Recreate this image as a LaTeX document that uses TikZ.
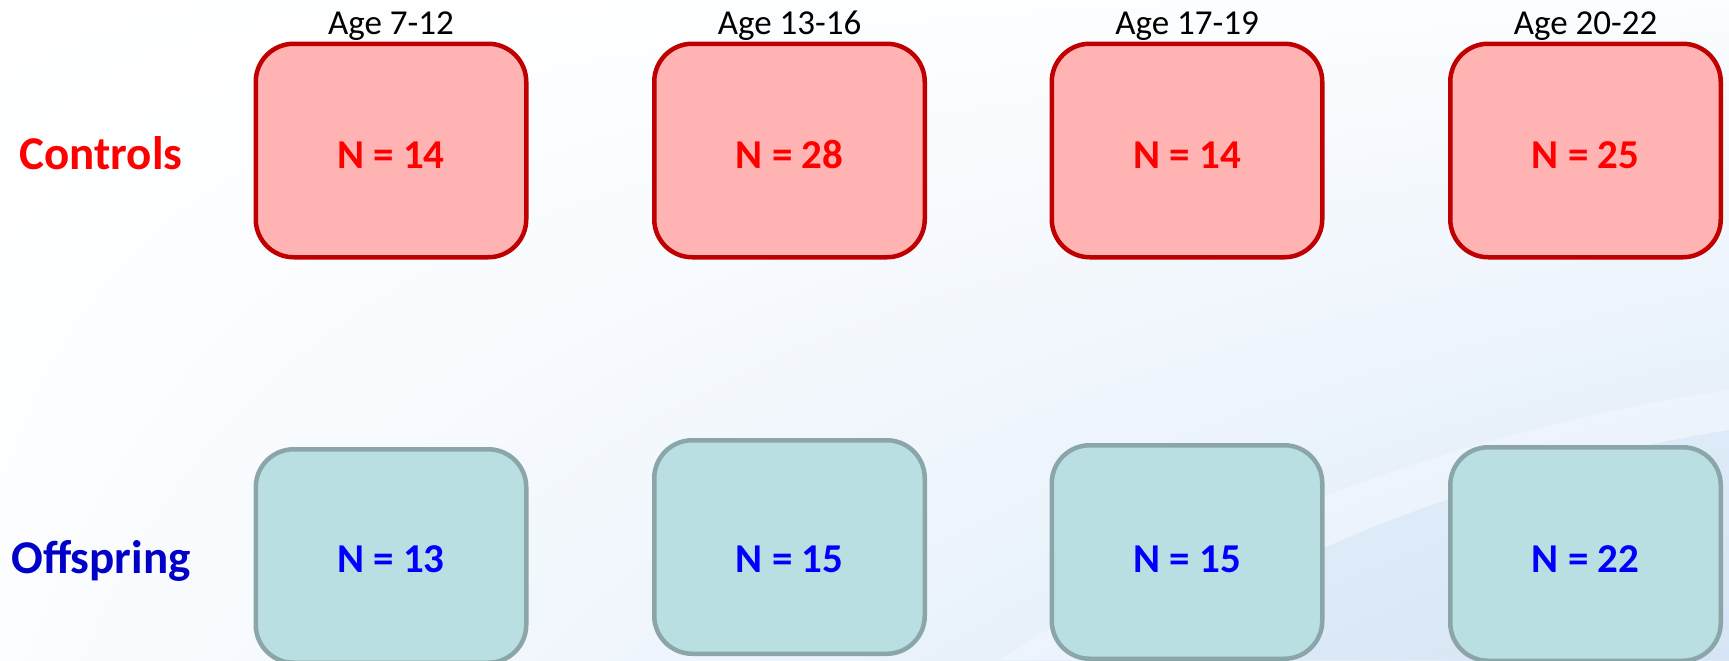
\documentclass[tikz,border=0pt]{standalone}
\usepackage{fontspec}
\setmainfont{Carlito}
\usetikzlibrary{shadings}
\definecolor{ctrlline}{HTML}{C00000}
\definecolor{ctrlfill}{HTML}{FFB3B3}
\definecolor{ctrltext}{HTML}{FF0000}
\definecolor{offfill}{HTML}{BADFE2}
\definecolor{offline}{HTML}{8BA6A9}
\definecolor{offlabel}{HTML}{0000C8}
\definecolor{offtext}{HTML}{0000FF}
\definecolor{bgcorner}{HTML}{DAE8F7}
\definecolor{bgtopright}{HTML}{FBFDFF}
\definecolor{bgbottomleft}{HTML}{FBFDFF}
\definecolor{bgdeep}{HTML}{CFE1F4}
\begin{document}
\begin{tikzpicture}[x=0.5pt,y=-0.5pt,
  box/.style={rectangle, rounded corners=19pt, line width=2.25pt,
    minimum width=135.25pt, minimum height=106.75pt, inner sep=0pt},
  ctrlbox/.style={box, draw=ctrlline, fill=ctrlfill},
  offbox/.style={box, draw=offline, fill=offfill},
  agelabel/.style={anchor=base, inner sep=0pt, font=\fontsize{17.5}{21}\selectfont},
  ctrlcount/.style={anchor=base, inner sep=0pt, text=ctrltext,
    font=\fontsize{20.5}{24}\selectfont\bfseries},
  offcount/.style={anchor=base, inner sep=0pt, text=offtext,
    font=\fontsize{20.5}{24}\selectfont\bfseries},
  rowlabel/.style={anchor=base, inner sep=0pt,
    font=\fontsize{23.5}{28}\selectfont\bfseries}
]
% page with a soft blue wash toward the lower right
\useasboundingbox (0,0) rectangle (1729,660);
\shade[upper left=white, upper right=bgtopright, lower left=bgbottomleft, lower right=bgcorner]
  (0,0) rectangle (1729,660);
% faint swoosh near the lower right corner
\fill[bgdeep, opacity=0.35]
  (1130,660) .. controls (1260,560) and (1480,470) .. (1729,430) -- (1729,660) -- cycle;
\fill[white, opacity=0.25]
  (1000,660) .. controls (1180,540) and (1450,430) .. (1729,390) -- (1729,430)
  .. controls (1480,470) and (1260,560) .. (1130,660) -- cycle;

% age headings
\node[agelabel] (a1) at (391,34)    {Age 7-12};
\node[agelabel] (a2) at (789.5,34)  {Age 13-16};
\node[agelabel] (a3) at (1187,34)   {Age 17-19};
\node[agelabel] (a4) at (1585.5,34) {Age 20-22};

% row headings
\node[rowlabel, text=ctrltext] (ctrl) at (101,169) {Controls};
\node[rowlabel, text=offlabel] (offs) at (101,573) {Offspring};

% control group boxes
\node[ctrlbox] (c1) at (391,150.5)    {};
\node[ctrlbox] (c2) at (789.5,150.5)  {};
\node[ctrlbox] (c3) at (1187,150.5)   {};
\node[ctrlbox] (c4) at (1585.5,150.5) {};
\node[ctrlcount] (c1n) at (391,168)    {N = 14};
\node[ctrlcount] (c2n) at (789.5,168)  {N = 28};
\node[ctrlcount] (c3n) at (1187,168)   {N = 14};
\node[ctrlcount] (c4n) at (1585.5,168) {N = 25};

% offspring group boxes
\node[offbox] (o1) at (391,556)    {};
\node[offbox] (o2) at (789.5,547)  {};
\node[offbox] (o3) at (1187,552)   {};
\node[offbox] (o4) at (1585.5,554) {};
\node[offcount] (o1n) at (391,572)    {N = 13};
\node[offcount] (o2n) at (789.5,572)  {N = 15};
\node[offcount] (o3n) at (1187,572)   {N = 15};
\node[offcount] (o4n) at (1585.5,572) {N = 22};
\end{tikzpicture}
\end{document}
